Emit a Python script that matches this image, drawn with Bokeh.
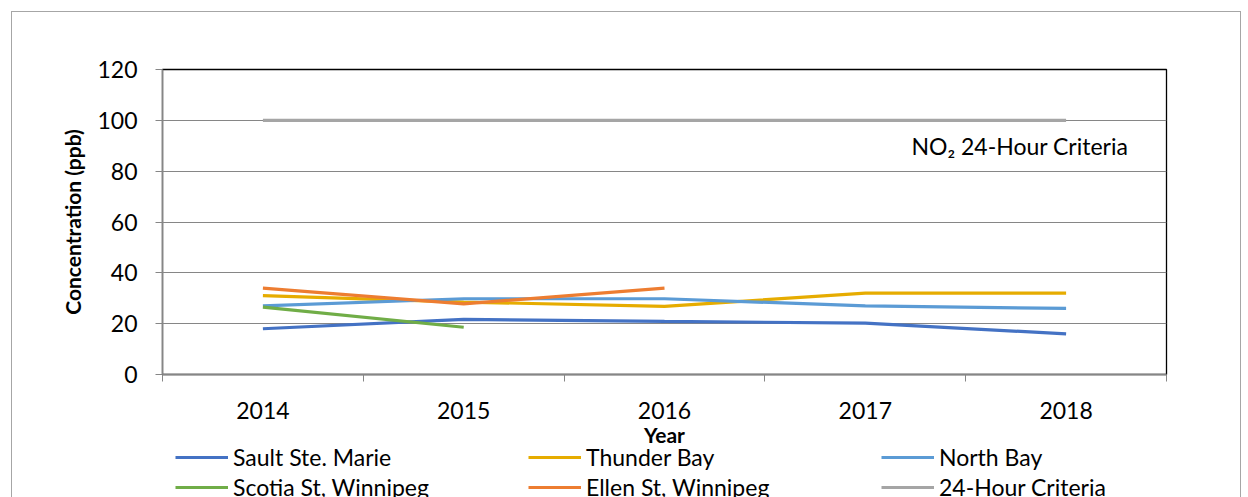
from bokeh.plotting import figure
from bokeh.models import (FixedTicker, Legend, LegendItem, Label, LinearAxis, Range1d, Grid)
from bokeh.layouts import column
from bokeh.embed import file_html
from bokeh.resources import INLINE

years = ["2014", "2015", "2016", "2017", "2018"]
sault = [18.0, 21.7, 20.9, 20.2, 16.0]
thunder = [31.0, 28.5, 26.8, 32.0, 32.0]
north = [27.0, 29.8, 29.8, 27.0, 26.0]
scotia = [26.5, 18.6]
ellen = [34.0, 27.8, 34.0]
criteria = [100, 100, 100, 100, 100]
y_ticks = [0, 20, 40, 60, 80, 100, 120]
series_names = ["Sault Ste. Marie", "Thunder Bay", "North Bay",
                "Scotia St, Winnipeg", "Ellen St, Winnipeg", "24-Hour Criteria"]
series_colors = ["#4472C4", "#E6AC00", "#5B9BD5", "#70AD47", "#ED7D31", "#A5A5A5"]

FONT = "Lato"
FS = "23px"
BFS = "21px"
LW = 3.2

xpos = [i + 0.5 for i in range(len(years))]
series = [sault, thunder, north, scotia, ellen, criteria]

p = figure(frame_width=1004, frame_height=305, min_border_left=150, min_border_right=74,
           min_border_top=57, min_border_bottom=71, title=None,
           x_range=Range1d(0, len(years)), y_range=Range1d(0, 120),
           output_backend="svg", toolbar_location=None, tools="",
           x_axis_location=None, y_axis_location=None)
p.outline_line_color = "black"
p.outline_line_width = 1.3
p.background_fill_color = "white"
p.border_fill_color = "white"
p.xgrid.visible = False
p.ygrid.visible = False

yax = LinearAxis(ticker=FixedTicker(ticks=y_ticks), axis_label="Concentration (ppb)")
yax.axis_line_color = "#868686"
yax.axis_line_width = 1.5
yax.major_tick_line_color = "#868686"
yax.major_tick_out = 7
yax.major_tick_in = 0
yax.minor_tick_line_color = None
yax.major_label_standoff = 18
yax.major_label_text_font = FONT
yax.major_label_text_font_size = FS
yax.major_label_text_color = "black"
yax.axis_label_text_font = FONT
yax.axis_label_text_font_size = BFS
yax.axis_label_text_font_style = "bold"
yax.axis_label_text_color = "black"
yax.axis_label_standoff = 9
p.add_layout(yax, "left")

xax = LinearAxis(ticker=FixedTicker(ticks=xpos, minor_ticks=list(range(len(years) + 1))),
                 axis_label="Year")
xax.major_label_overrides = {x: y for x, y in zip(xpos, years)}
xax.axis_line_color = "#868686"
xax.axis_line_width = 1.5
xax.major_tick_out = 0
xax.major_tick_in = 0
xax.minor_tick_out = 7
xax.minor_tick_in = 0
xax.minor_tick_line_color = "#868686"
xax.major_label_standoff = 20
xax.major_label_text_font = FONT
xax.major_label_text_font_size = FS
xax.major_label_text_color = "black"
xax.axis_label_text_font = FONT
xax.axis_label_text_font_size = BFS
xax.axis_label_text_font_style = "bold"
xax.axis_label_text_color = "black"
xax.axis_label_standoff = 0
p.add_layout(xax, "below")

p.add_layout(Grid(dimension=1, ticker=FixedTicker(ticks=y_ticks),
                  grid_line_color="#868686", grid_line_width=1.2))

for vals, col in zip(series, series_colors):
    p.line(xpos[:len(vals)], vals, line_color=col, line_width=LW)

p.add_layout(Label(x=xpos[-1] + 0.31, y=90, text="NO\u2082 24-Hour Criteria", text_align="right",
                   text_baseline="middle", text_font=FONT, text_font_size=FS, text_color="black"))

# legend strip: a second plot area below, so the legend is not clipped.
# Its lines hold the same series but lie outside its range, so only the keys show.
p2 = figure(width=1228, height=48, min_border=0, title=None,
            x_range=Range1d(0, 1), y_range=Range1d(-2, -1),
            output_backend="svg", toolbar_location=None, tools="",
            x_axis_location=None, y_axis_location=None)
p2.outline_line_color = None
p2.xgrid.visible = False
p2.ygrid.visible = False
p2.background_fill_color = "white"
p2.border_fill_color = "white"
keys = [p2.line(xpos[:len(vals)], vals, line_color=c, line_width=LW)
        for vals, c in zip(series, series_colors)]
leg = Legend(items=[LegendItem(label=l, renderers=[r]) for l, r in zip(series_names, keys)],
             location=(13, -5), orientation="horizontal", ncols=3,
             label_text_font=FONT, label_text_font_size=FS, label_text_color="black",
             glyph_width=53, glyph_height=20, label_height=30, label_width=295,
             label_standoff=5, spacing=0, padding=0, margin=0, border_line_color=None,
             background_fill_alpha=0, click_policy="none")
p2.add_layout(leg, "center")

lay = column(p, p2, spacing=0,
             styles={"margin-left": "11px", "margin-top": "11px",
                     "border": "1px solid #a6a6a6", "border-bottom": "none"})
open("out.html", "w").write(file_html(lay, INLINE))
